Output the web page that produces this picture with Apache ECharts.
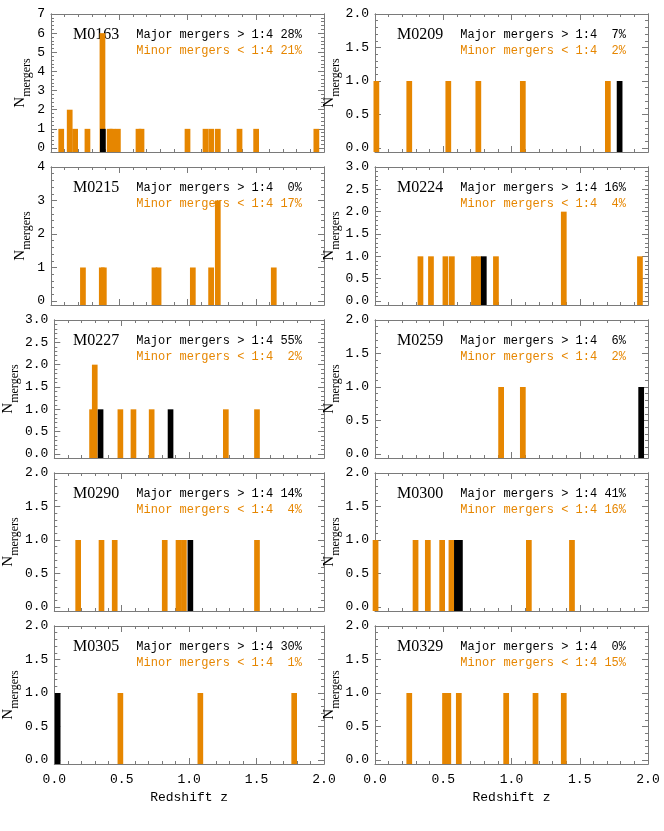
<!DOCTYPE html>
<html>
<head>
<meta charset="utf-8">
<script src="https://cdn.jsdelivr.net/npm/echarts@6/dist/echarts.min.js"></script>
<style>
  html, body { margin: 0; background: #fff; }
  #chart { width: 664px; height: 831px; }
</style>
</head>
<body>
<div id="chart"></div>
<script>
// halo names and merger fractions, one per panel (left to right, top to bottom)
const halos = ['M0163', 'M0209', 'M0215', 'M0224', 'M0227', 'M0259', 'M0290', 'M0300', 'M0305', 'M0329'];
const majorPct = [28, 7, 0, 16, 55, 6, 14, 41, 30, 0];
const minorPct = [21, 2, 17, 4, 2, 2, 4, 16, 1, 15];
const yMax = [7, 2, 4, 3, 3, 2, 2, 2, 2, 2];
const yStep = [1, 0.5, 1, 0.5, 0.5, 0.5, 0.5, 0.5, 0.5, 0.5];

// [redshift, N] of each histogram bin: all mergers (orange) and major mergers (black)
const m0163All = [[0.075, 1], [0.137, 2], [0.177, 1], [0.267, 1], [0.377, 6], [0.43, 1], [0.45, 1], [0.49, 1],
  [0.641, 1], [0.663, 1], [1.0, 1], [1.132, 1], [1.174, 1], [1.222, 1], [1.381, 1], [1.503, 1], [1.944, 1]];
const m0163Major = [[0.38, 1]];
const m0209All = [[0.01, 1], [0.251, 1], [0.537, 1], [0.757, 1], [1.083, 1], [1.706, 1]];
const m0209Major = [[1.792, 1]];
const m0215All = [[0.234, 1], [0.372, 1], [0.387, 1], [0.758, 1], [0.788, 1], [1.039, 1], [1.173, 1], [1.222, 3], [1.632, 1]];
const m0215Major = [];
const m0224All = [[0.333, 1], [0.41, 1], [0.516, 1], [0.563, 1], [0.725, 1], [0.76, 1], [0.886, 1], [1.383, 2], [1.941, 1]];
const m0224Major = [[0.797, 1]];
const m0227All = [[0.28, 1], [0.30, 2], [0.49, 1], [0.587, 1], [0.722, 1], [1.272, 1], [1.503, 1]];
const m0227Major = [[0.343, 1], [0.862, 1]];
const m0259All = [[0.924, 1], [1.083, 1]];
const m0259Major = [[1.95, 1]];
const m0290All = [[0.177, 1], [0.35, 1], [0.448, 1], [0.819, 1], [0.921, 1], [0.961, 1], [1.503, 1]];
const m0290Major = [[1.009, 1]];
const m0300All = [[0.004, 1], [0.297, 1], [0.387, 1], [0.492, 1], [0.56, 1], [1.127, 1], [1.443, 1]];
const m0300Major = [[0.60, 1], [0.622, 1]];
const m0305All = [[0.49, 1], [1.083, 1], [1.779, 1]];
const m0305Major = [[0.025, 1]];
const m0329All = [[0.251, 1], [0.513, 1], [0.537, 1], [0.614, 1], [0.961, 1], [1.176, 1], [1.383, 1]];
const m0329Major = [];

const allBins = [m0163All, m0209All, m0215All, m0224All, m0227All, m0259All, m0290All, m0300All, m0305All, m0329All];
const majorBins = [m0163Major, m0209Major, m0215Major, m0224Major, m0227Major, m0259Major, m0290Major, m0300Major, m0305Major, m0329Major];

const ORANGE = '#E68600';
const FRAME = '#7a7a7a';
const BIN_W = 0.042;
const colLeft = [51, 375];
const rowTop = [14, 167, 320, 473, 626];
const W = 273, H = 138;
const monoFont = '"Liberation Mono", "DejaVu Sans Mono", monospace';
const serifFont = '"Liberation Serif", "DejaVu Serif", serif';

const chart = echarts.init(document.getElementById('chart'));

function range(lo, hi, step) {
  const out = [];
  for (let v = lo; v <= hi + 1e-9; v += step) out.push(Math.round(v * 1000) / 1000);
  return out;
}

function pad(n) { return (n < 10 ? ' ' : '') + n + '%'; }

const grid = [], xAxis = [], yAxis = [], series = [], graphic = [];

halos.forEach((name, i) => {
  const col = i % 2, row = Math.floor(i / 2);
  const left = colLeft[col], top = rowTop[row];
  const lastRow = row === 4;
  const yMin = -0.03 * yMax[i];
  const majors = range(0, yMax[i], yStep[i]);
  const minors = range(0, yMax[i], yStep[i] / 5).filter(v => !majors.some(m => Math.abs(m - v) < 1e-6));
  const fmt = v => yStep[i] < 1 ? v.toFixed(1) : String(v);

  grid.push({ left, top, width: W, height: H });

  const xBase = {
    gridIndex: i, type: 'value', min: 0, max: 2, interval: 0.5,
    axisLine: { show: true, onZero: false, lineStyle: { color: FRAME, width: 1 } },
    axisTick: { show: true, inside: true, length: 6, lineStyle: { color: FRAME } },
    minorTick: { show: true, splitNumber: 5, length: 3, lineStyle: { color: FRAME } },
    splitLine: { show: false }
  };
  xAxis.push(Object.assign({}, xBase, {
    position: 'bottom',
    axisLabel: { show: lastRow, margin: 9, color: '#000', fontFamily: monoFont, fontSize: 13, formatter: v => v.toFixed(1) },
    name: lastRow ? 'Redshift z' : '', nameLocation: 'middle', nameGap: 27,
    nameTextStyle: { color: '#000', fontFamily: monoFont, fontSize: 13 }
  }));
  xAxis.push(Object.assign({}, xBase, { position: 'top', axisLabel: { show: false } }));

  const yBase = {
    gridIndex: i, type: 'value', min: yMin, max: yMax[i],
    axisLine: { show: true, onZero: false, lineStyle: { color: FRAME, width: 1 } },
    splitLine: { show: false }
  };
  const majorTick = { show: true, inside: true, length: 6, customValues: majors, lineStyle: { color: FRAME } };
  const minorTickAx = { show: true, inside: true, length: 3, customValues: minors, lineStyle: { color: FRAME } };
  yAxis.push(Object.assign({}, yBase, {
    position: 'left',
    axisTick: majorTick,
    axisLabel: { show: true, customValues: majors, margin: 6, color: '#000', fontFamily: monoFont, fontSize: 13, formatter: fmt },
    name: '{n|N}{s|mergers}', nameLocation: 'middle', nameRotate: 90,
    nameGap: yStep[i] < 1 ? 33 : 18,
    nameTextStyle: {
      rich: {
        n: { fontFamily: serifFont, fontSize: 15, lineHeight: 20, verticalAlign: 'top', color: '#000' },
        s: { fontFamily: serifFont, fontSize: 12, lineHeight: 12, verticalAlign: 'bottom', color: '#000' }
      }
    }
  }));
  yAxis.push(Object.assign({}, yBase, { position: 'left', axisTick: minorTickAx, axisLabel: { show: false } }));
  yAxis.push(Object.assign({}, yBase, { position: 'right', axisTick: majorTick, axisLabel: { show: false } }));
  yAxis.push(Object.assign({}, yBase, { position: 'right', axisTick: minorTickAx, axisLabel: { show: false } }));

  const barSeries = (data, color) => ({
    type: 'custom',
    xAxisIndex: 2 * i, yAxisIndex: 4 * i,
    data,
    encode: { x: 0, y: 1 },
    silent: true,
    renderItem(params, api) {
      const z = api.value(0), n = api.value(1);
      const p = api.coord([z, n]);
      const base = api.coord([z, yMin]);
      const w = api.size([BIN_W, 0])[0];
      return {
        type: 'rect',
        shape: { x: p[0] - w / 2, y: p[1], width: w, height: base[1] - p[1] },
        style: { fill: color }
      };
    }
  });
  series.push(barSeries(allBins[i], ORANGE));
  series.push(barSeries(majorBins[i], '#000'));

  graphic.push({
    type: 'text', left: left + 22, top: top + 13,
    style: { text: name, fontFamily: serifFont, fontSize: 16, fill: '#000' }
  });
  graphic.push({
    type: 'text', right: 664 - (left + W - 22), top: top + 15,
    style: { text: 'Major mergers > 1:4 ' + pad(majorPct[i]), fontFamily: monoFont, fontSize: 12, fill: '#000' }
  });
  graphic.push({
    type: 'text', right: 664 - (left + W - 22), top: top + 31,
    style: { text: 'Minor mergers < 1:4 ' + pad(minorPct[i]), fontFamily: monoFont, fontSize: 12, fill: ORANGE }
  });
});

chart.setOption({
  animation: false,
  backgroundColor: '#fff',
  grid, xAxis, yAxis, series, graphic
});
</script>
</body>
</html>
